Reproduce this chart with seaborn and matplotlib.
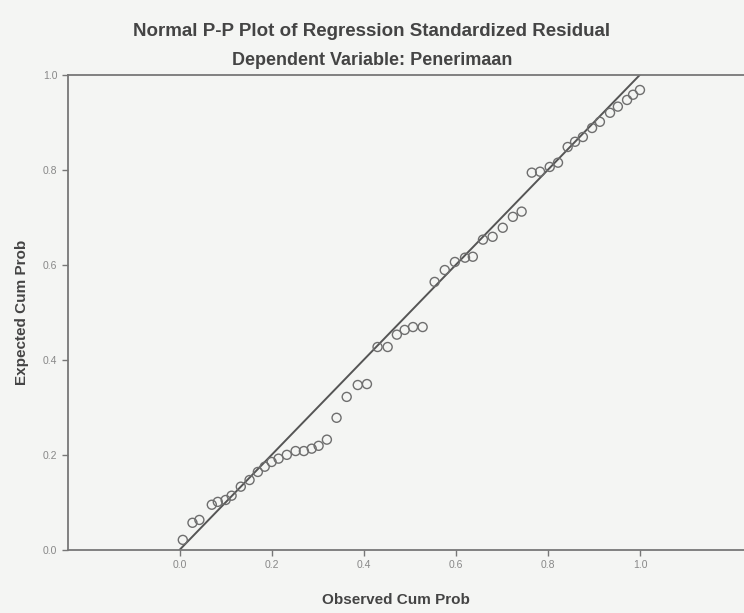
import matplotlib
matplotlib.use("Agg")
import matplotlib.pyplot as plt
import seaborn as sns
import pandas as pd

# observed vs expected cumulative probabilities
observed = [0.007, 0.028, 0.043, 0.070, 0.083, 0.100, 0.113, 0.133, 0.152, 0.170,
            0.185, 0.200, 0.215, 0.233, 0.252, 0.270, 0.287, 0.302, 0.320, 0.341,
            0.363, 0.387, 0.407, 0.430, 0.452, 0.472, 0.489, 0.507, 0.528, 0.554,
            0.576, 0.598, 0.620, 0.637, 0.659, 0.680, 0.702, 0.724, 0.743, 0.765,
            0.783, 0.804, 0.822, 0.843, 0.859, 0.876, 0.896, 0.913, 0.935, 0.952,
            0.972, 0.985, 1.000]
expected = [0.021, 0.057, 0.063, 0.095, 0.101, 0.105, 0.114, 0.133, 0.147, 0.164,
            0.175, 0.185, 0.192, 0.200, 0.208, 0.208, 0.213, 0.219, 0.232, 0.278,
            0.322, 0.347, 0.349, 0.427, 0.427, 0.453, 0.463, 0.469, 0.469, 0.564,
            0.589, 0.606, 0.615, 0.617, 0.653, 0.659, 0.678, 0.701, 0.712, 0.794,
            0.796, 0.806, 0.815, 0.848, 0.859, 0.869, 0.888, 0.901, 0.920, 0.933,
            0.947, 0.958, 0.968]
ref_line = [0.0, 1.0]
ticks = [0.0, 0.2, 0.4, 0.6, 0.8, 1.0]
tick_labels = ["0.0", "0.2", "0.4", "0.6", "0.8", "1.0"]

df = pd.DataFrame({"Observed Cum Prob": observed, "Expected Cum Prob": expected})

sns.set_style("white")
plt.rcParams["font.family"] = ["Liberation Sans", "DejaVu Sans"]

bg = "#f4f5f3"
fig = plt.figure(figsize=(7.44, 6.13), dpi=100, facecolor=bg)
ax = fig.add_axes([0.091, 0.103, 0.909, 0.775], facecolor=bg)

sns.lineplot(x=ref_line, y=ref_line, color="#555555", linewidth=1.4, ax=ax)
sns.scatterplot(data=df, x="Observed Cum Prob", y="Expected Cum Prob", ax=ax,
                marker="o", s=42, facecolors="none", edgecolor="#6e6e6e",
                linewidth=1.0, zorder=3)

ax.set_xlim(-0.243, 1.226)
ax.set_ylim(0.0, 1.0)
ax.set_xticks(ticks)
ax.set_xticklabels(tick_labels)
ax.set_yticks(ticks)
ax.set_yticklabels(tick_labels)
ax.tick_params(axis="both", direction="out", length=4, width=1, colors="#777777",
               labelsize=7.5, labelcolor="#888888", bottom=True, left=True)

for side in ["left", "bottom", "top"]:
    ax.spines[side].set_visible(True)
    ax.spines[side].set_color("#777777")
    ax.spines[side].set_linewidth(1.3)
ax.spines["right"].set_visible(False)

ax.set_xlabel("Observed Cum Prob", fontsize=11, fontweight="bold", color="#444444")
ax.set_ylabel("Expected Cum Prob", fontsize=11, fontweight="bold", color="#444444", labelpad=10)
ax.xaxis.set_label_coords(0.485, -0.09)

fig.text(0.5, 0.948, "Normal P-P Plot of Regression Standardized Residual",
         ha="center", va="center", fontsize=13.5, fontweight="bold", color="#444444")
fig.text(0.5, 0.902, "Dependent Variable: Penerimaan",
         ha="center", va="center", fontsize=13, fontweight="bold", color="#444444")

fig.savefig("out.png", dpi=100, facecolor=bg)
